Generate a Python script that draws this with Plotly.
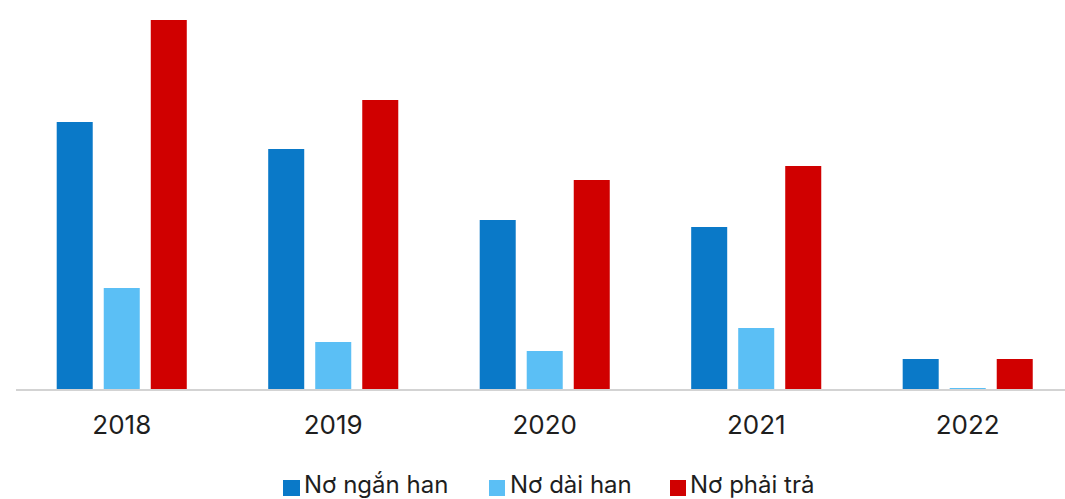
import plotly.graph_objects as go

years = ["2018", "2019", "2020", "2021", "2022"]
no_ngan_han = [267, 240, 169, 162, 30]
no_dai_han = [101, 47, 38, 61, 0.5]
no_phai_tra = [369, 289, 209, 223, 30]

series_names = ["Nơ ngắn han", "Nơ dài han", "Nơ phải trả"]
series_colors = ["#0a79c8", "#5bbff5", "#d00000"]
series_values = [no_ngan_han, no_dai_han, no_phai_tra]

FONT = "Inter, Arial, sans-serif"
W, H = 1065, 499
ML, MR, MT, MB = 16, 0, 9, 110
PW, PH = W - ML - MR, H - MT - MB

fig = go.Figure()
for name, color, vals in zip(series_names, series_colors, series_values):
    fig.add_trace(go.Bar(x=years, y=vals, name=name, marker_color=color,
                         marker_line_width=0, showlegend=False))


def px_x(px):
    return (px - ML) / PW


def px_y(py):
    return (H - MB - py) / PH


# hand-built legend row under the axis
legend_boxes = [(283, 300), (489, 505), (670, 686)]
legend_text_x = [303, 509, 689]
for (x0, x1), tx, name, color in zip(legend_boxes, legend_text_x, series_names, series_colors):
    fig.add_shape(type="rect", xref="paper", yref="paper",
                  x0=px_x(x0), x1=px_x(x1), y0=px_y(496), y1=px_y(480),
                  fillcolor=color, line_width=0)
    fig.add_annotation(xref="paper", yref="paper", x=px_x(tx), y=px_y(485),
                       text=name, showarrow=False, xanchor="left", yanchor="middle",
                       borderpad=0,
                       font=dict(family=FONT, size=24, color="#1e1e1e"))

fig.update_layout(
    width=W, height=H,
    margin=dict(l=ML, r=MR, t=MT, b=MB, pad=0),
    paper_bgcolor="white", plot_bgcolor="white",
    barmode="group", bargap=0.333, bargroupgap=0.234,
    font=dict(family=FONT, color="#1e1e1e"),
    xaxis=dict(type="category", range=[-0.5, 4.46], showgrid=False,
               showline=True, linecolor="#d3d3d3", linewidth=1.5,
               ticks="outside", ticklen=12, tickcolor="rgba(0,0,0,0)",
               tickfont=dict(family=FONT, size=26, color="#1e1e1e")),
    yaxis=dict(range=[0, PH], visible=False, showgrid=False, zeroline=False),
)

fig.write_html("out.html")
